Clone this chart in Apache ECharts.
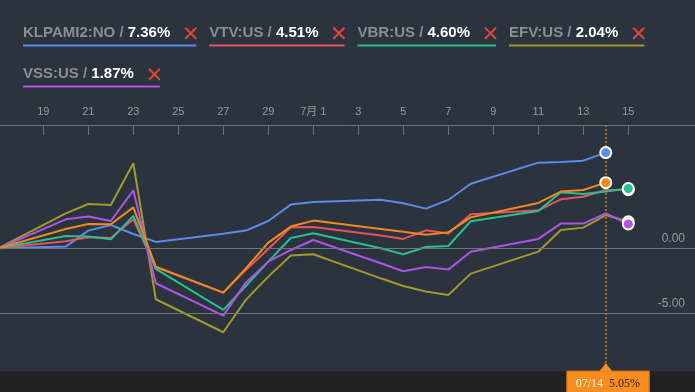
<!DOCTYPE html>
<html><head><meta charset="utf-8">
<script src="https://cdn.jsdelivr.net/npm/echarts@6/dist/echarts.min.js"></script>
<style>html,body{margin:0;padding:0;background:#2a333e;}#c{width:695px;height:392px;}</style>
</head><body><div id="c"></div>
<script>
// ---- data ----
const dates = ['2022-06-17','2022-06-20','2022-06-21','2022-06-22','2022-06-23','2022-06-24',
  '2022-06-27','2022-06-28','2022-06-29','2022-06-30','2022-07-01','2022-07-04','2022-07-05',
  '2022-07-06','2022-07-07','2022-07-08','2022-07-11','2022-07-12','2022-07-13','2022-07-14','2022-07-15'];
const klpami2 = [0, 0.13, 1.36, 1.79, 1.10, 0.49, 1.12, 1.36, 2.10, 3.36, 3.56, 3.74, 3.46, 3.05, 3.72, 4.97, 6.59, 6.64, 6.74, 7.36];
const vtv     = [0, 0.55, 0.85, 0.79, 2.23, -1.46, -3.41, -1.67, -0.05, 1.62, 1.64, 0.98, 0.72, 1.38, 1.13, 2.62, 2.92, 3.77, 3.97, 4.49, 4.51];
const vbr     = [0, 0.95, 0.90, 0.69, 2.49, -1.59, -4.74, -2.90, -1.03, 0.79, 1.15, 0.00, -0.46, 0.10, 0.18, 2.08, 2.87, 4.31, 4.18, 4.36, 4.60];
const efv     = [0, 2.69, 3.41, 3.33, 6.54, -3.92, -6.46, -3.97, -2.18, -0.56, -0.46, -2.31, -2.90, -3.33, -3.59, -1.95, -0.26, 1.41, 1.59, 2.56, 2.04];
const vss     = [0, 2.23, 2.44, 2.10, 4.46, -2.69, -5.18, -2.64, -1.03, -0.13, 0.64, -1.15, -1.77, -1.44, -1.64, -0.26, 0.72, 1.90, 1.90, 2.69, 1.87];
const portfolio = [0, 1.49, 1.87, 1.85, 3.15, -1.41, -3.41, -1.54, 0.44, 1.67, 2.13, 1.49, 1.27, 1.05, 1.23, 2.38, 3.49, 4.36, 4.49, 5.05];
const seriesNames = ['KLPAMI2:NO', 'VTV:US', 'VBR:US', 'EFV:US', 'VSS:US'];
const tickDates = ['2022-06-19','2022-06-21','2022-06-23','2022-06-25','2022-06-27','2022-06-29','2022-07-01',
  '2022-07-03','2022-07-05','2022-07-07','2022-07-09','2022-07-11','2022-07-13','2022-07-15'];
const tickLabels = ['19','21','23','25','27','29','7月 1','3','5','7','9','11','13','15'];
const yGridValues = [0, -5];

// ---- styles ----
const colors = ['#5d8be8', '#e8525e', '#28c08e', '#a19a2c', '#b352e6'];
const portfolioColor = '#f08a1d';

const toDay = s => { const p = s.split('-').map(Number); return (Date.UTC(p[0], p[1]-1, p[2]) - Date.UTC(p[0], 0, 1)) / 86400000 + 1; };
const xs = dates.map(toDay);
const tickXs = tickDates.map(toDay);
const xMin = xs[0] + 0.075, xMax = xMin + 30.89;
const yMin = -9.44, yMax = 9.485;

const chart = echarts.init(document.getElementById('c'), null, {renderer: 'canvas'});
const values = [klpami2, vtv, vbr, efv, vss];
const toPairs = arr => arr.map((v, i) => [xs[i], v]);

const series = [];
values.forEach((arr, i) => {
  series.push({
    type: 'line', name: seriesNames[i], data: toPairs(arr), symbol: 'none',
    lineStyle: {color: colors[i], width: 2}, itemStyle: {color: colors[i]}, z: 3,
    markLine: i === 0 ? {
      silent: true, symbol: 'none', animation: false,
      lineStyle: {color: '#727579', width: 1, type: 'solid'},
      label: {position: 'insideEndTop', color: '#9a9a9a', fontSize: 12, fontFamily: 'Liberation Sans',
        distance: [10, 4], formatter: p => p.value.toFixed(2)},
      data: yGridValues.map(v => ({yAxis: v}))
    } : undefined
  });
});
const pLast = portfolio.length - 1;
series.push({
  type: 'line', name: 'Portfolio', data: toPairs(portfolio), symbol: 'none',
  lineStyle: {color: portfolioColor, width: 2}, z: 3,
  markLine: {
    silent: true, symbol: 'none', animation: false,
    lineStyle: {color: '#b9831c', width: 1.5, type: [2, 2]},
    label: {show: false},
    data: [{xAxis: xs[pLast]}]
  }
});
const ends = values.map((arr, i) => ({value: [xs[arr.length-1], arr[arr.length-1]], itemStyle: {color: colors[i]}}));
const endOrder = [ends[0], {value: [xs[pLast], portfolio[pLast]], itemStyle: {color: portfolioColor}}, ends[1], ends[2], ends[3], ends[4]];
series.push({
  type: 'scatter', data: endOrder, symbolSize: 11, z: 5,
  itemStyle: {borderColor: '#ffffff', borderWidth: 2, opacity: 1}
});

chart.setOption({
  animation: false,
  backgroundColor: '#2a333e',
  grid: {left: 0, right: 0, top: 125, bottom: 21},
  xAxis: {
    type: 'value', position: 'top', min: xMin, max: xMax,
    axisLine: {show: true, onZero: false, lineStyle: {color: '#6b6f74', width: 1}},
    axisTick: {show: true, inside: true, length: 10, customValues: tickXs, lineStyle: {color: '#6b6f74'}},
    axisLabel: {show: true, customValues: tickXs, color: '#9a9a9a', fontSize: 11, margin: 8,
      fontFamily: 'Liberation Sans, Noto Sans CJK SC',
      formatter: v => { const k = tickXs.indexOf(v); return k >= 0 ? tickLabels[k] : ''; }},
    splitLine: {show: false}
  },
  yAxis: {
    type: 'value', min: yMin, max: yMax, show: false, splitLine: {show: false}
  },
  series: series
});

// ---- legend + tooltip box as graphics ----
const cv = document.createElement('canvas').getContext('2d');
const legendFont = "bold 15px 'Liberation Sans'";
cv.font = legendFont;
const graphics = [];
let lx = 23, row = 0;
const rowY = [33.3, 74.3];
seriesNames.forEach((name, i) => {
  const arr = values[i];
  const valTxt = arr[arr.length-1].toFixed(2) + '%';
  const txt = name + ' / ' + valTxt;
  const w = cv.measureText(txt).width;
  const total = w + 26;
  if (lx + total > 690) { lx = 23; row++; }
  const cy = rowY[row];
  graphics.push({type: 'text', x: lx, y: cy, z: 10, style: {
    text: '{n|' + name + ' /} {v|' + valTxt + '}',
    rich: {n: {fill: '#8c8e91', font: legendFont}, v: {fill: '#ffffff', font: legendFont}},
    font: legendFont, verticalAlign: 'middle', align: 'left'}});
  const cx = lx + w + 20.5;
  graphics.push({type: 'line', z: 10, shape: {x1: cx-5.5, y1: cy-5.5, x2: cx+5.5, y2: cy+5.5}, style: {stroke: '#e8433a', lineWidth: 2}});
  graphics.push({type: 'line', z: 10, shape: {x1: cx-5.5, y1: cy+5.5, x2: cx+5.5, y2: cy-5.5}, style: {stroke: '#e8433a', lineWidth: 2}});
  graphics.push({type: 'rect', z: 10, shape: {x: lx, y: cy + 11.2, width: cx + 5.5 - lx, height: 2}, style: {fill: colors[i]}});
  lx = cx + 5.5 + 13;
});

const pt = chart.convertToPixel({gridIndex: 0}, [xs[pLast], portfolio[pLast]]);
const by = chart.convertToPixel({gridIndex: 0}, [xMin, yMin])[1];
const px = pt[0];
const dparts = dates[pLast].split('-');
graphics.push({type: 'rect', z: 8, shape: {x: 0, y: by, width: 695, height: 392 - by}, style: {fill: '#222222'}});
graphics.push({type: 'rect', z: 9, shape: {x: px - 39, y: by, width: 82.5, height: 30}, style: {fill: '#f78d1e', stroke: '#c86d10', lineWidth: 1}});
graphics.push({type: 'polygon', z: 9, shape: {points: [[px, by - 8], [px - 6.5, by + 0.5], [px + 6.5, by + 0.5]]}, style: {fill: '#f78d1e'}});
graphics.push({type: 'text', z: 10, x: px + 2, y: by + 12.5, style: {
  text: '{a|' + dparts[1] + '/' + dparts[2] + '}  {b|' + portfolio[pLast].toFixed(2) + '%}',
  rich: {a: {fill: '#fff4e0', font: "12px 'Liberation Serif'"}, b: {fill: '#2a2118', font: "12px 'Liberation Serif'"}},
  font: "12px 'Liberation Serif'", align: 'center', verticalAlign: 'middle'}});

chart.setOption({graphic: graphics});
</script>
</body></html>
